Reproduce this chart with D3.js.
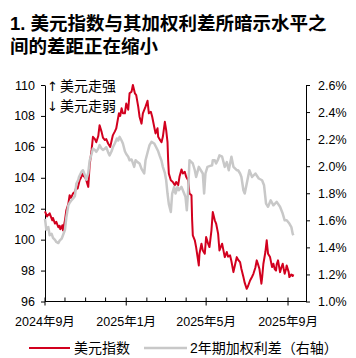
<!DOCTYPE html>
<html><head><meta charset="utf-8">
<script src="https://cdn.jsdelivr.net/npm/d3@7"></script>
<style>
html,body{margin:0;padding:0;background:#fff;}
svg{display:block;font-family:"Liberation Sans",Arial,"Noto Sans CJK SC",sans-serif;}
</style></head>
<body><svg id="c" width="356" height="358"></svg>
<script>
const titleLines = ["1. 美元指数与其加权利差所暗示水平之", "间的差距正在缩小"];
const seriesNames = ["美元指数", "2年期加权利差（右轴）"];
const noteLines = [["↑", "美元走强"], ["↓", "美元走弱"]];
const leftTicks = [96, 98, 100, 102, 104, 106, 108, 110];
const rightTicks = [1.0, 1.2, 1.4, 1.6, 1.8, 2.0, 2.2, 2.4, 2.6];
const monthTicks = ["2024-09-01","2024-10-01","2024-11-01","2024-12-01","2025-01-01","2025-02-01","2025-03-01","2025-04-01","2025-05-01","2025-06-01","2025-07-01","2025-08-01","2025-09-01"];
const labelMonths = ["2024-09-01","2025-01-01","2025-05-01","2025-09-01"];
const xDomain = ["2024-09-01", "2025-09-28"];

const dxyDates = ["2024-09-01","2024-09-04","2024-09-08","2024-09-12","2024-09-13","2024-09-16","2024-09-18","2024-09-21","2024-09-23","2024-09-24","2024-09-26","2024-09-27","2024-09-28","2024-10-01","2024-10-03","2024-10-06","2024-10-08","2024-10-10","2024-10-13","2024-10-16","2024-10-18","2024-10-20","2024-10-23","2024-10-25","2024-10-27","2024-10-29","2024-10-31","2024-11-02","2024-11-05","2024-11-07","2024-11-10","2024-11-12","2024-11-15","2024-11-17","2024-11-20","2024-11-22","2024-11-25","2024-11-27","2024-11-30","2024-12-02","2024-12-05","2024-12-08","2024-12-10","2024-12-12","2024-12-15","2024-12-17","2024-12-21","2024-12-23","2024-12-25","2024-12-27","2024-12-30","2025-01-01","2025-01-04","2025-01-06","2025-01-09","2025-01-11","2025-01-14","2025-01-16","2025-01-19","2025-01-21","2025-01-24","2025-01-26","2025-01-30","2025-02-02","2025-02-04","2025-02-07","2025-02-09","2025-02-12","2025-02-14","2025-02-17","2025-02-18","2025-02-20","2025-02-23","2025-02-25","2025-02-28","2025-03-02","2025-03-04","2025-03-05","2025-03-06","2025-03-09","2025-03-12","2025-03-15","2025-03-17","2025-03-20","2025-03-22","2025-03-25","2025-03-27","2025-03-30","2025-04-01","2025-04-04","2025-04-06","2025-04-09","2025-04-10","2025-04-11","2025-04-14","2025-04-16","2025-04-20","2025-04-21","2025-04-24","2025-04-26","2025-04-29","2025-05-01","2025-05-04","2025-05-06","2025-05-09","2025-05-11","2025-05-14","2025-05-16","2025-05-19","2025-05-21","2025-05-25","2025-05-29","2025-06-01","2025-06-03","2025-06-06","2025-06-08","2025-06-11","2025-06-13","2025-06-16","2025-06-18","2025-06-21","2025-06-23","2025-06-26","2025-06-28","2025-07-01","2025-07-03","2025-07-06","2025-07-09","2025-07-11","2025-07-14","2025-07-16","2025-07-18","2025-07-20","2025-07-23","2025-07-24","2025-07-26","2025-07-29","2025-07-31","2025-08-01","2025-08-02","2025-08-05","2025-08-08","2025-08-10","2025-08-12","2025-08-14","2025-08-15","2025-08-17","2025-08-20","2025-08-22","2025-08-24","2025-08-26","2025-08-27","2025-08-29","2025-08-30","2025-09-02","2025-09-03","2025-09-06","2025-09-08","2025-09-09"];
const dxyValues = [101.83,101.5,101.7,101.25,101.4,101.04,101.15,100.8,100.9,100.67,100.8,100.93,100.6,101.25,101.9,102.3,102.87,102.7,102.98,103.1,103.4,103.3,103.84,104.0,104.27,104.1,104.06,103.84,103.41,104.8,105.8,106.65,106.5,106.3,106.7,107.4,106.97,106.6,106.44,106.5,106.2,106.0,106.4,106.76,107.0,107.19,108.17,108.0,108.49,108.17,108.17,108.8,108.4,109.46,109.57,110.0,109.46,109.35,108.6,107.95,107.5,108.17,108.6,108.98,108.17,108.27,107.95,107.3,106.87,107.2,106.65,106.5,106.3,106.65,107.62,107.08,106.3,105.1,104.27,103.84,103.73,103.52,103.73,103.52,104.06,104.54,104.28,104.38,104.06,103.84,102.98,102.87,101.25,100.28,99.96,99.5,98.33,99.09,99.74,99.3,99.09,100.17,99.74,99.52,100.6,101.79,101.25,101.04,100.39,99.3,99.74,98.87,99.2,98.9,98.98,98.6,97.9,98.3,98.87,98.7,98.55,98.1,97.58,97.2,96.82,97.0,97.36,97.6,97.79,98.2,98.66,98.4,98.12,97.15,97.5,98.44,99.2,99.96,99.5,99.09,98.87,98.23,98.44,98.1,98.0,98.4,98.66,97.9,98.2,98.44,98.0,97.79,98.1,98.33,97.9,97.58,97.75,97.65,97.75];

const spreadDates = ["2024-09-01","2024-09-03","2024-09-06","2024-09-08","2024-09-11","2024-09-13","2024-09-16","2024-09-18","2024-09-21","2024-09-23","2024-09-26","2024-09-28","2024-10-01","2024-10-03","2024-10-06","2024-10-08","2024-10-11","2024-10-13","2024-10-16","2024-10-18","2024-10-21","2024-10-22","2024-10-26","2024-10-28","2024-10-31","2024-11-02","2024-11-05","2024-11-07","2024-11-10","2024-11-12","2024-11-15","2024-11-17","2024-11-20","2024-11-22","2024-11-25","2024-11-27","2024-11-30","2024-12-02","2024-12-05","2024-12-07","2024-12-10","2024-12-12","2024-12-15","2024-12-18","2024-12-20","2024-12-22","2024-12-25","2024-12-27","2024-12-30","2025-01-01","2025-01-04","2025-01-06","2025-01-09","2025-01-13","2025-01-15","2025-01-18","2025-01-21","2025-01-24","2025-01-28","2025-01-30","2025-02-03","2025-02-05","2025-02-08","2025-02-12","2025-02-15","2025-02-18","2025-02-20","2025-02-23","2025-02-25","2025-02-28","2025-03-02","2025-03-04","2025-03-06","2025-03-09","2025-03-11","2025-03-14","2025-03-16","2025-03-19","2025-03-21","2025-03-25","2025-03-29","2025-03-31","2025-04-02","2025-04-04","2025-04-06","2025-04-09","2025-04-11","2025-04-14","2025-04-16","2025-04-20","2025-04-23","2025-04-26","2025-04-28","2025-04-30","2025-05-03","2025-05-06","2025-05-10","2025-05-11","2025-05-14","2025-05-16","2025-05-19","2025-05-21","2025-05-25","2025-05-29","2025-06-01","2025-06-04","2025-06-08","2025-06-11","2025-06-16","2025-06-18","2025-06-21","2025-06-23","2025-06-26","2025-06-28","2025-07-02","2025-07-05","2025-07-09","2025-07-14","2025-07-19","2025-07-24","2025-07-27","2025-07-30","2025-08-02","2025-08-06","2025-08-10","2025-08-15","2025-08-20","2025-08-24","2025-08-27","2025-08-30","2025-09-03","2025-09-06","2025-09-08","2025-09-09"];
const spreadValues = [1.61,1.53,1.55,1.49,1.50,1.47,1.455,1.44,1.432,1.45,1.464,1.49,1.53,1.62,1.71,1.73,1.75,1.76,1.78,1.87,1.90,1.92,1.96,1.97,1.933,1.90,1.95,2.04,2.09,2.13,2.12,2.106,2.13,2.156,2.13,2.12,2.13,2.14,2.10,2.08,2.11,2.14,2.17,2.205,2.19,2.217,2.19,2.168,2.11,2.09,2.07,2.044,2.05,1.995,2.044,2.03,2.02,1.98,1.946,2.044,2.12,2.156,2.18,2.168,2.14,2.11,2.08,2.04,1.995,1.95,1.896,1.798,1.72,1.662,1.798,1.847,1.798,1.847,1.822,1.847,1.798,1.773,1.674,1.822,2.044,2.03,2.02,1.97,1.92,1.995,1.97,1.946,1.798,1.946,1.995,2.0,2.007,2.044,2.044,2.02,2.05,2.08,2.07,1.995,2.03,1.97,2.07,1.995,1.97,1.97,1.946,1.92,1.822,1.798,1.896,1.97,1.92,1.946,1.909,1.896,1.859,1.724,1.70,1.748,1.711,1.736,1.70,1.65,1.60,1.60,1.576,1.55,1.50,1.489];

const parse = d3.timeParse("%Y-%m-%d");
const svg = d3.select("#c");
const RED = "#D2001E", GRAY = "#C8C8C8";
const FONT_CJK = '"Liberation Sans",Arial,"Noto Sans CJK SC",sans-serif';

const x = d3.scaleTime().domain(xDomain.map(parse)).range([45, 306]);
const yL = d3.scaleLinear().domain([96, 110]).range([301.5, 85]);
const yR = d3.scaleLinear().domain([1.0, 2.6]).range([301.5, 85]);

// title
const title = svg.append("text").attr("x", 10).attr("font-size", 18.5).attr("font-weight", "bold").attr("fill", "#000").style("font-family", FONT_CJK);
titleLines.forEach((t, i) => title.append("tspan").attr("x", 10).attr("y", 30 + i * 22.8).text(t));

// left axis
const gL = svg.append("g").attr("transform", "translate(45,0)")
  .call(d3.axisLeft(yL).tickValues(leftTicks).tickSize(4).tickSizeOuter(0).tickPadding(6).tickFormat(d3.format("d")));
// right axis
const gR = svg.append("g").attr("transform", "translate(306,0)")
  .call(d3.axisRight(yR).tickValues(rightTicks).tickSize(4).tickSizeOuter(0).tickPadding(8).tickFormat(d => d3.format(".1f")(d) + "%"));
[gL, gR].forEach(g => {
  g.selectAll("text").attr("font-size", 12.5).attr("fill", "#000").style("font-family", FONT_CJK);
  g.selectAll("line,path").attr("stroke", "#000").attr("stroke-width", 1);
});

// bottom axis
const gB = svg.append("g");
const by = yL(96);
gB.append("line").attr("x1", 45).attr("x2", 306).attr("y1", by).attr("y2", by).attr("stroke", "#000");
const labelSet = new Set(labelMonths);
const fmtMonth = d => d3.timeFormat("%Y")(d) + "年" + (d.getMonth() + 1) + "月";
monthTicks.forEach(m => {
  const d = parse(m), xx = x(d), major = labelSet.has(m);
  gB.append("line").attr("x1", xx).attr("x2", xx).attr("y1", by - 4).attr("y2", major ? by + 4 : by).attr("stroke", "#000");
  if (major) gB.append("text").attr("x", xx).attr("y", by + 24).attr("text-anchor", "middle")
    .attr("font-size", 12.5).attr("fill", "#000").style("font-family", FONT_CJK).text(fmtMonth(d));
});

// series
const dxy = dxyDates.map((d, i) => ({ d: parse(d), v: dxyValues[i] }));
const spr = spreadDates.map((d, i) => ({ d: parse(d), v: spreadValues[i] }));
svg.append("path").datum(dxy).attr("fill", "none").attr("stroke", RED).attr("stroke-width", 2).attr("stroke-linejoin", "round")
  .attr("d", d3.line().x(p => x(p.d)).y(p => yL(p.v)));
svg.append("path").datum(spr).attr("fill", "none").attr("stroke", GRAY).attr("stroke-width", 2.5).attr("stroke-linejoin", "round")
  .attr("d", d3.line().x(p => x(p.d)).y(p => yR(p.v)));

// annotation
noteLines.forEach((n, i) => {
  svg.append("text").attr("x", 47).attr("y", 91 + i * 20).attr("font-size", 13).attr("fill", "#000").style("font-family", '"DejaVu Sans",sans-serif').text(n[0]);
  svg.append("text").attr("x", 60).attr("y", 91 + i * 20).attr("font-size", 14).attr("fill", "#000").style("font-family", FONT_CJK).text(n[1]);
});

// legend
const leg = [{ c: RED, w: 2, x1: 29, x2: 70, tx: 74 }, { c: GRAY, w: 2.5, x1: 144, x2: 187, tx: 190 }];
leg.forEach((l, i) => {
  svg.append("line").attr("x1", l.x1).attr("x2", l.x2).attr("y1", 348).attr("y2", 348).attr("stroke", l.c).attr("stroke-width", l.w);
  svg.append("text").attr("x", l.tx).attr("y", 352.5).attr("font-size", 14).attr("fill", "#000").style("font-family", FONT_CJK).text(seriesNames[i]);
});
</script></body></html>
